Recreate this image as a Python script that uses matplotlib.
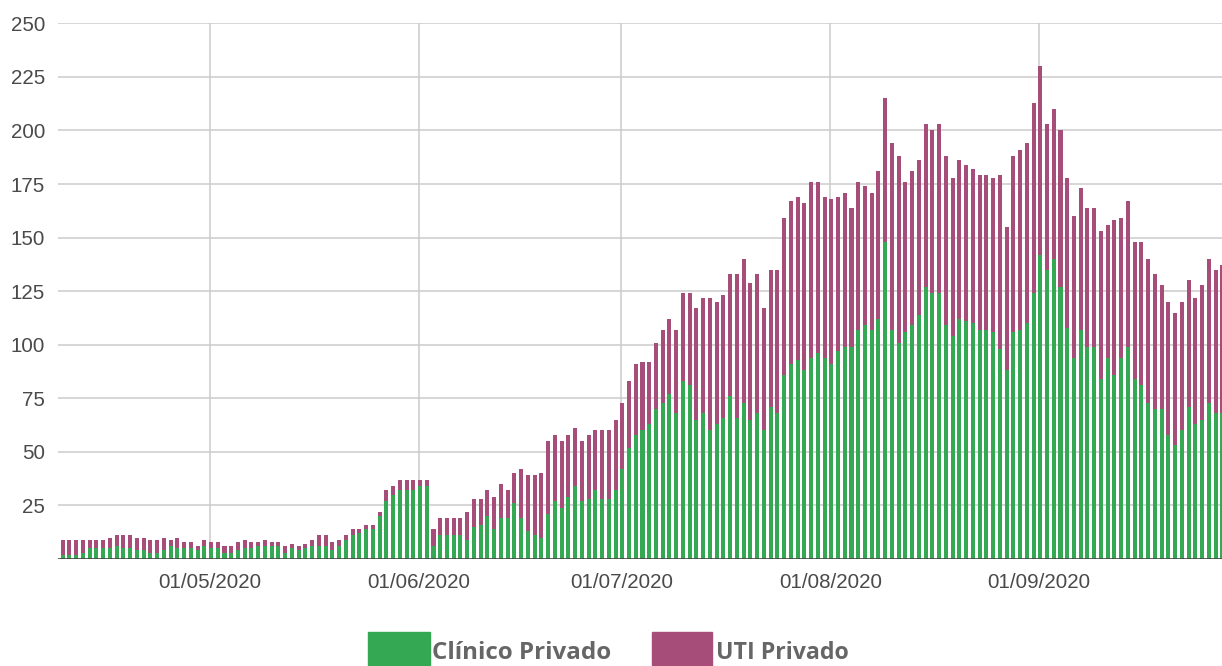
import matplotlib
matplotlib.use('Agg')
import matplotlib.pyplot as plt
import matplotlib.dates as mdates
from matplotlib.patches import Rectangle
import pandas as pd
import numpy as np

# ---------------- data ----------------
start_date = '2020-04-09'
end_date = '2020-09-28'

clinico = [
    # April 9-30
    2, 2, 2, 3, 5, 5, 5, 5, 6, 5, 5, 4, 4, 3, 3, 4, 6, 5, 5, 5, 4, 6,
    # May
    5, 5, 3, 3, 4, 5, 5, 6, 6, 6, 6, 3, 5, 4, 5, 6, 6, 6, 4, 6, 9, 11, 12, 14, 14, 20, 27, 30, 32, 32, 32,
    # June
    34, 34, 6, 11, 11, 11, 11, 9, 15, 16, 20, 14, 19, 19, 26, 19, 13, 11, 10, 21, 27, 24, 29, 34, 27, 28, 32, 28, 28, 32,
    # July
    42, 52, 58, 60, 63, 70, 73, 77, 68, 83, 81, 65, 68, 60, 63, 66, 76, 66, 73, 65, 68, 60, 71, 68, 86, 91, 93, 88, 94, 96, 94,
    # August
    91, 97, 99, 99, 107, 109, 107, 112, 148, 107, 101, 106, 109, 114, 127, 124, 124, 109, 104, 112, 111, 110, 107, 107, 106, 98, 88, 106, 107, 110, 124,
    # September 1-28
    142, 135, 140, 127, 108, 94, 107, 99, 99, 84, 94, 86, 94, 99, 84, 81, 73, 70, 70, 58, 53, 60, 71, 63, 65, 73, 68, 68,
]

uti = [
    # April 9-30
    7, 7, 7, 6, 4, 4, 4, 5, 5, 6, 6, 6, 6, 6, 6, 6, 3, 5, 3, 3, 2, 3,
    # May
    3, 3, 3, 3, 4, 4, 3, 2, 3, 2, 2, 3, 2, 2, 2, 3, 5, 5, 4, 3, 2, 3, 2, 2, 2, 2, 5, 4, 5, 5, 5,
    # June
    3, 3, 8, 8, 8, 8, 8, 13, 13, 12, 12, 15, 16, 13, 14, 23, 26, 28, 30, 34, 31, 31, 29, 27, 28, 30, 28, 32, 32, 33,
    # July
    31, 31, 33, 32, 29, 31, 34, 35, 39, 41, 43, 52, 54, 62, 57, 57, 57, 67, 67, 64, 65, 57, 64, 67, 73, 76, 76, 78, 82, 80, 75,
    # August
    77, 72, 72, 65, 69, 65, 64, 69, 67, 87, 87, 70, 72, 72, 76, 76, 79, 79, 74, 74, 73, 72, 72, 72, 72, 81, 67, 82, 84, 84, 89,
    # September 1-28
    88, 68, 70, 73, 70, 66, 66, 65, 65, 69, 62, 72, 65, 68, 64, 67, 67, 63, 58, 62, 62, 60, 59, 59, 63, 67, 67, 69,
]

tick_dates = ['2020-05-01', '2020-06-01', '2020-07-01', '2020-08-01', '2020-09-01']
tick_labels = ['01/05/2020', '01/06/2020', '01/07/2020', '01/08/2020', '01/09/2020']
y_ticks = [25, 50, 75, 100, 125, 150, 175, 200, 225, 250]
series_names = ['Clínico Privado', 'UTI Privado']
colors = ['#34A853', '#A64D79']

# ---------------- figure ----------------
W, H = 1222, 666
fig = plt.figure(figsize=(W / 100, H / 100), dpi=100)
left_px, base_px, top_px = 57.5, 559.0, 23.3
ax = fig.add_axes([left_px / W, 1 - base_px / H, 1 - left_px / W, (base_px - top_px) / H])

dates = pd.date_range(start_date, end_date, freq='D')
x = mdates.date2num(dates.to_pydatetime()) + 0.15
clin = np.array(clinico)
ut = np.array(uti)

bw = 0.6
ax.bar(x, clin, width=bw, color=colors[0], zorder=3, linewidth=0)
ax.bar(x, ut, width=bw, bottom=clin, color=colors[1], zorder=3, linewidth=0)

may1 = mdates.date2num(pd.Timestamp('2020-05-01').to_pydatetime())
px_per_day = 6.742
ax.set_xlim(may1 - (210 - left_px) / px_per_day, may1 + (W - 210) / px_per_day)
ax.set_ylim(0, 250)

tick_x = [mdates.date2num(pd.Timestamp(d).to_pydatetime()) for d in tick_dates]
ax.set_xticks(tick_x)
ax.set_xticklabels(tick_labels)
ax.set_yticks(y_ticks)
ax.set_yticklabels([str(v) for v in y_ticks])

for t in tick_x:
    ax.axvline(t, color='#cccccc', lw=1.1, zorder=1)
for v in y_ticks:
    ax.axhline(v, color='#cccccc', lw=1.1, zorder=1)
ax.axhline(0, color='#444444', lw=1.2, zorder=4)

for s in ax.spines.values():
    s.set_visible(False)
ax.tick_params(axis='both', length=0, labelsize=14.8, colors='#4a4a4a')
ax.tick_params(axis='y', pad=9)
ax.tick_params(axis='x', pad=10)
for lab in ax.get_xticklabels() + ax.get_yticklabels():
    lab.set_family('Liberation Sans')

# ---------------- legend (manual, bottom centre) ----------------
sq = [(368, 430), (652, 712)]
txt_x = [432.5, 716.5]
target_w = [179, 133]
sq_top = 632
for (x0, x1), c in zip(sq, colors):
    fig.patches.append(Rectangle((x0 / W, 0), (x1 - x0) / W, (H - sq_top) / H,
                                 transform=fig.transFigure, color=c, zorder=5))
renderer = fig.canvas.get_renderer()
for name, tx, tw in zip(series_names, txt_x, target_w):
    fs = 18
    t = fig.text(tx / W, 0.5, name, fontsize=fs, fontweight='bold', family='Open Sans',
                 color='#666666', va='bottom', ha='left')
    w = t.get_window_extent(renderer).width
    t.set_fontsize(fs * tw / w)
    t.set_y(1.0 / H)

fig.savefig('out.png', dpi=100)
